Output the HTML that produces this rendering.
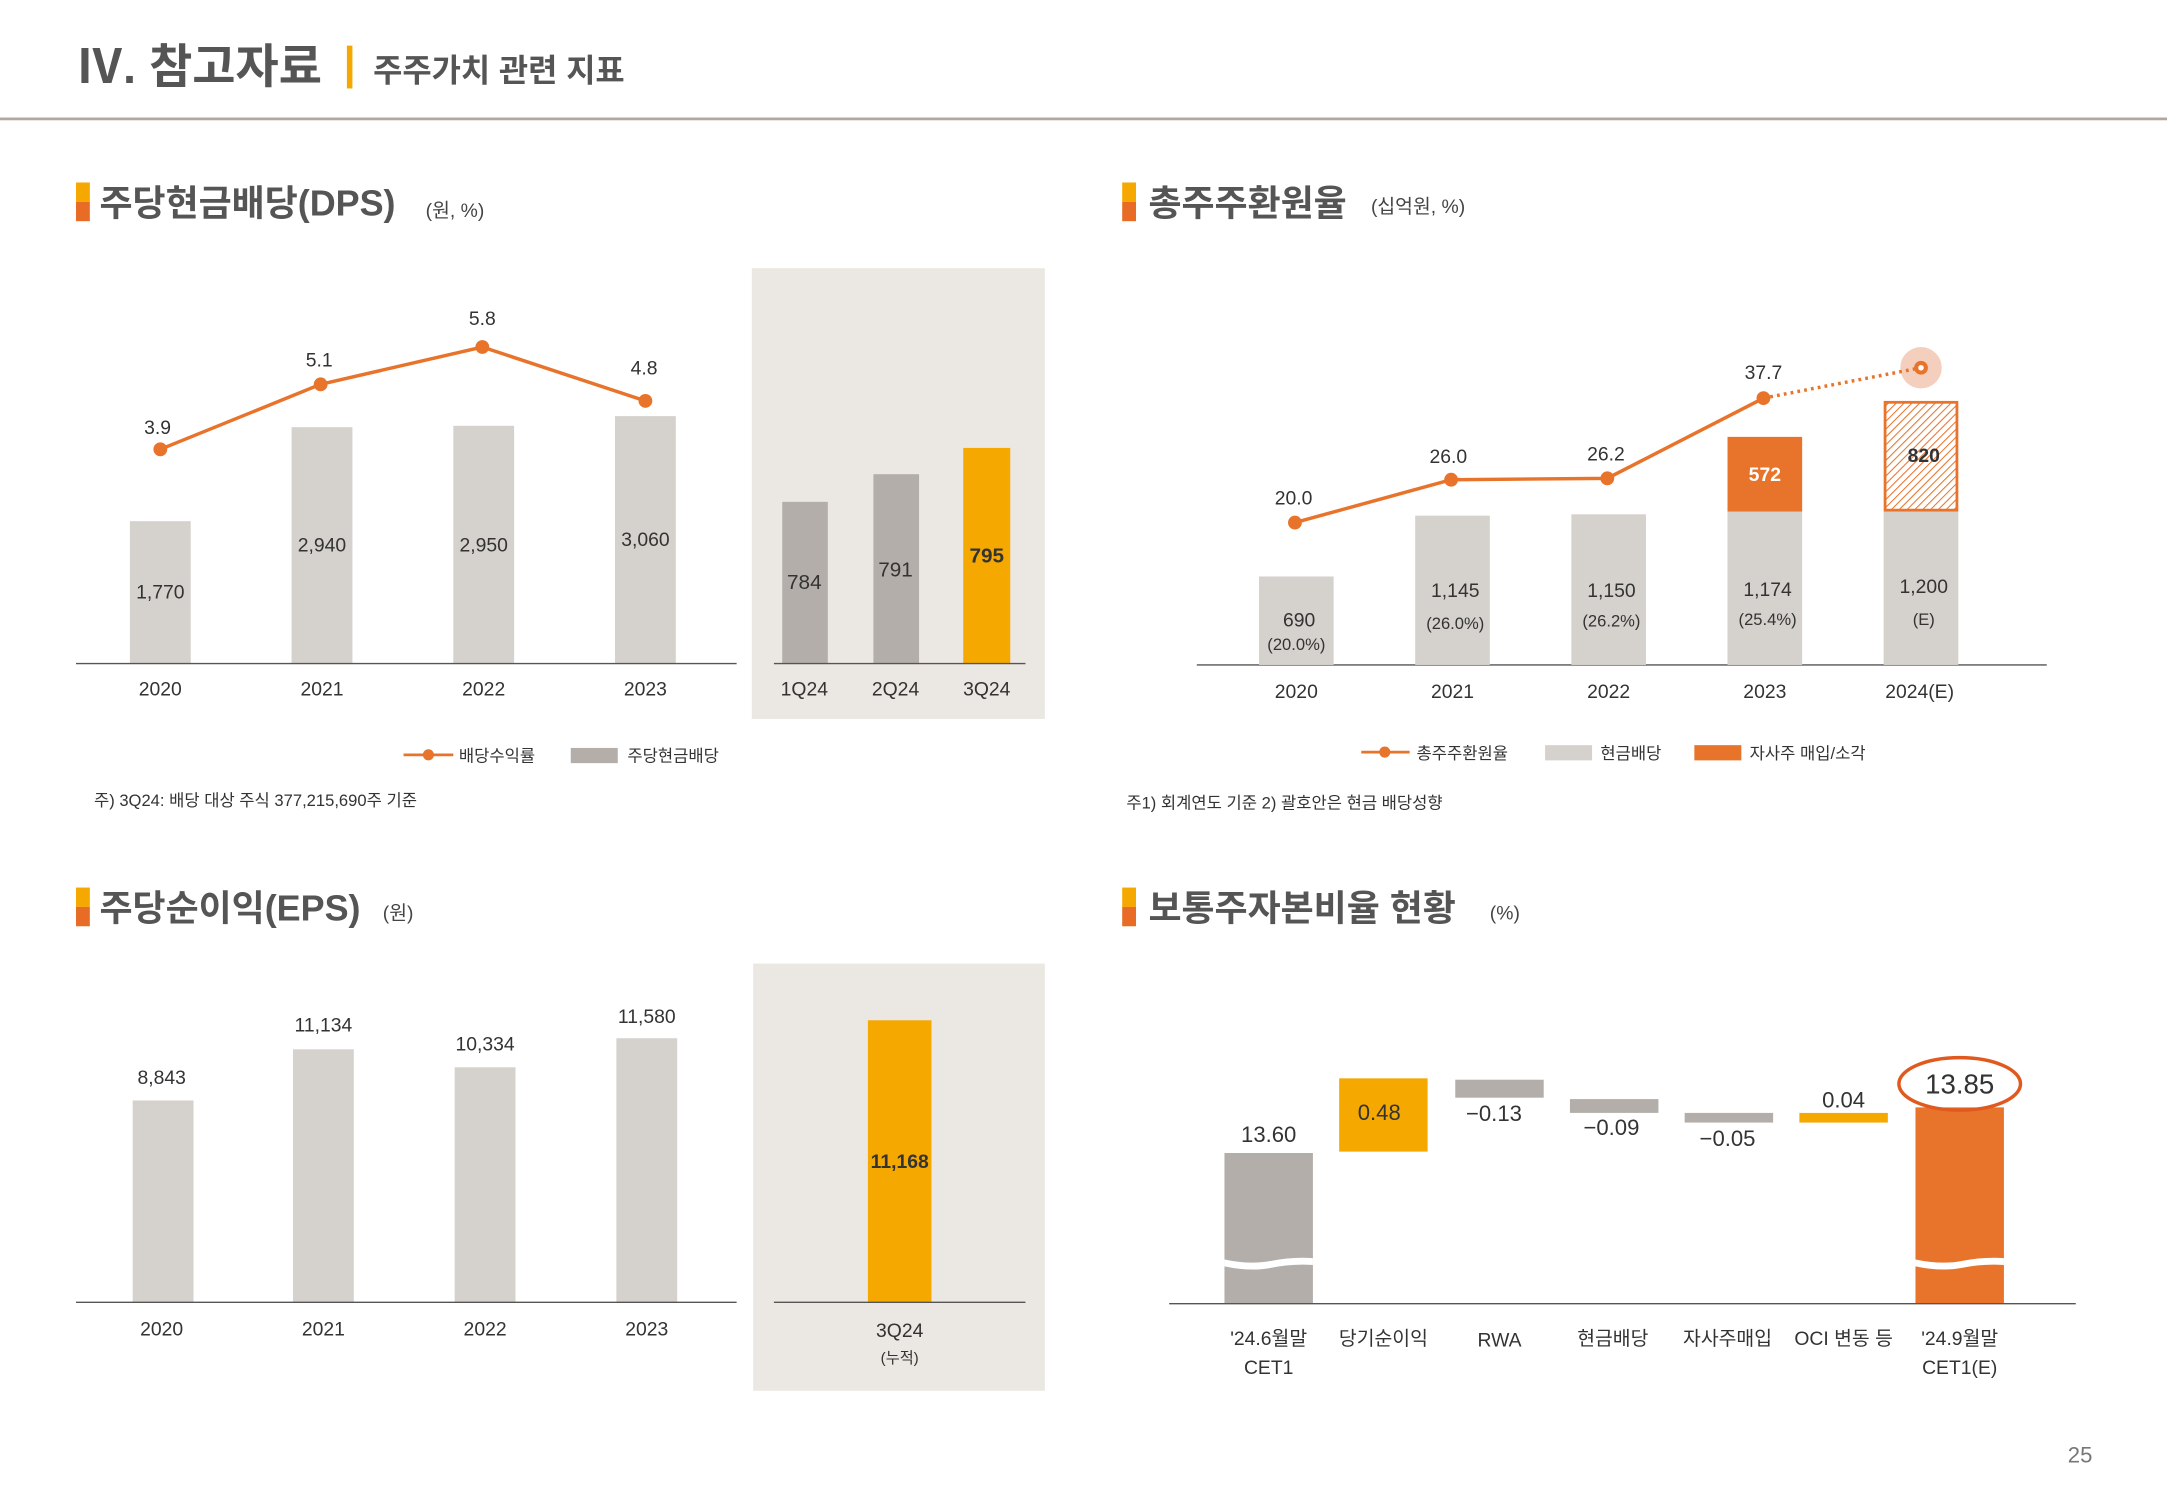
<!DOCTYPE html>
<html><head><meta charset="utf-8"><style>
html,body{margin:0;padding:0;background:#fff;width:2167px;height:1500px;overflow:hidden}
svg{display:block}
text{font-family:"Liberation Sans","Noto Sans CJK KR","NanumGothic",sans-serif;fill:#333}
.t{font-size:14px;text-anchor:middle}
.h{font-size:26px;font-weight:bold;fill:#555}
.s{font-size:14px;fill:#444}
.y{font-size:14px;text-anchor:middle;fill:#333}
</style></head><body>
<svg width="2167" height="1500" viewBox="0 0 1568 1085" preserveAspectRatio="none">
<defs>
<pattern id="hatch" width="4" height="4" patternUnits="userSpaceOnUse" patternTransform="rotate(45)">
<rect width="4" height="4" fill="#fff"/><line x1="0" y1="0" x2="0" y2="4" stroke="#e8732a" stroke-width="1.5"/></pattern>
</defs>
<!-- title -->
<text x="55" y="60" style="font-size:34px;font-weight:bold;fill:#555">Ⅳ. 참고자료</text>
<rect x="251" y="33" width="4" height="31" fill="#f5a800"/>
<text x="270" y="59" style="font-size:23px;font-weight:bold;fill:#555">주주가치 관련 지표</text>
<rect x="0" y="85" width="1568" height="2" fill="#b0a89e"/>

<!-- headers -->
<g>
<rect x="55" y="132" width="10" height="14" fill="#f5a800"/><rect x="55" y="146" width="10" height="14" fill="#e86c25"/>
<text x="72" y="156" class="h">주당현금배당(DPS)</text><text x="308" y="157" class="s">(원, %)</text>
<rect x="812" y="132" width="10" height="14" fill="#f5a800"/><rect x="812" y="146" width="10" height="14" fill="#e86c25"/>
<text x="831" y="156" class="h">총주주환원율</text><text x="992" y="154" class="s">(십억원, %)</text>
<rect x="55" y="642" width="10" height="14" fill="#f5a800"/><rect x="55" y="656" width="10" height="14" fill="#e86c25"/>
<text x="72" y="666" class="h">주당순이익(EPS)</text><text x="277" y="665" class="s">(원)</text>
<rect x="812" y="642" width="10" height="14" fill="#f5a800"/><rect x="812" y="656" width="10" height="14" fill="#e86c25"/>
<text x="831" y="666" class="h">보통주자본비율 현황</text><text x="1078" y="665" class="s">(%)</text>
</g>

<!-- chart 1 -->
<rect x="544" y="194" width="212" height="326" fill="#ebe7e3"/>
<rect x="94" y="377" width="44" height="103" fill="#d5d1cd"/>
<rect x="211" y="309" width="44" height="171" fill="#d5d1cd"/>
<rect x="328" y="308" width="44" height="172" fill="#d5d1cd"/>
<rect x="445" y="301" width="44" height="179" fill="#d5d1cd"/>
<line x1="55" y1="480" x2="533" y2="480" stroke="#555" stroke-width="1"/>
<text x="116" y="433" class="t">1,770</text><text x="233" y="399" class="t">2,940</text>
<text x="350" y="399" class="t">2,950</text><text x="467" y="395" class="t">3,060</text>
<polyline points="116,325 232,278 349,251 467,290" fill="none" stroke="#e8732a" stroke-width="2.5"/>
<g fill="#e8732a"><circle cx="116" cy="325" r="5"/><circle cx="232" cy="278" r="5"/><circle cx="349" cy="251" r="5"/><circle cx="467" cy="290" r="5"/></g>
<text x="114" y="314" class="t">3.9</text><text x="231" y="265" class="t">5.1</text><text x="349" y="235" class="t">5.8</text><text x="466" y="271" class="t">4.8</text>
<text x="116" y="503" class="y">2020</text><text x="233" y="503" class="y">2021</text><text x="350" y="503" class="y">2022</text><text x="467" y="503" class="y">2023</text>
<rect x="566" y="363" width="33" height="117" fill="#b3aea9"/>
<rect x="632" y="343" width="33" height="137" fill="#b3aea9"/>
<rect x="697" y="324" width="34" height="156" fill="#f5a800"/>
<line x1="560" y1="480" x2="742" y2="480" stroke="#555"/>
<text x="582" y="426" class="t" style="font-size:15px">784</text><text x="648" y="417" class="t" style="font-size:15px">791</text>
<text x="714" y="407" class="t" style="font-size:15px;font-weight:bold">795</text>
<text x="582" y="503" class="y">1Q24</text><text x="648" y="503" class="y">2Q24</text><text x="714" y="503" class="y">3Q24</text>
<line x1="292" y1="546" x2="328" y2="546" stroke="#e8732a" stroke-width="2"/><circle cx="310" cy="546" r="4" fill="#e8732a"/>
<text x="332" y="551" style="font-size:12px">배당수익률</text>
<rect x="413" y="541" width="34" height="11" fill="#b3aea9"/>
<text x="454" y="551" style="font-size:12px">주당현금배당</text>
<text x="68" y="583" style="font-size:12px">주) 3Q24: 배당 대상 주식 377,215,690주 기준</text>

<!-- chart 2 -->
<line x1="866" y1="481" x2="1481" y2="481" stroke="#555"/>
<rect x="911" y="417" width="54" height="64" fill="#d5d1cd"/>
<rect x="1024" y="373" width="54" height="108" fill="#d5d1cd"/>
<rect x="1137" y="372" width="54" height="109" fill="#d5d1cd"/>
<rect x="1250" y="370" width="54" height="111" fill="#d5d1cd"/>
<rect x="1250" y="316" width="54" height="54" fill="#e8732a"/>
<rect x="1363" y="370" width="54" height="111" fill="#d5d1cd"/>
<rect x="1364" y="291" width="52" height="78" fill="url(#hatch)" stroke="#e8732a" stroke-width="2"/>
<circle cx="1390" cy="266" r="15" fill="#f5cfbd"/>
<polyline points="937,378 1050,347 1163,346 1276,288" fill="none" stroke="#e8732a" stroke-width="2.5"/>
<line x1="1276" y1="288" x2="1390" y2="266" stroke="#e8732a" stroke-width="2.5" stroke-dasharray="2,3"/>
<g fill="#e8732a"><circle cx="937" cy="378" r="5"/><circle cx="1050" cy="347" r="5"/><circle cx="1163" cy="346" r="5"/><circle cx="1276" cy="288" r="5"/><circle cx="1390" cy="266" r="5"/></g>
<circle cx="1390" cy="266" r="2" fill="#fff"/>
<text x="936" y="365" class="t">20.0</text><text x="1048" y="335" class="t">26.0</text><text x="1162" y="333" class="t">26.2</text><text x="1276" y="274" class="t">37.7</text>
<text x="940" y="453" class="t">690</text><text x="938" y="470" class="t" style="font-size:12px">(20.0%)</text>
<text x="1053" y="432" class="t">1,145</text><text x="1053" y="455" class="t" style="font-size:12px">(26.0%)</text>
<text x="1166" y="432" class="t">1,150</text><text x="1166" y="453" class="t" style="font-size:12px">(26.2%)</text>
<text x="1279" y="431" class="t">1,174</text><text x="1279" y="452" class="t" style="font-size:12px">(25.4%)</text>
<text x="1392" y="429" class="t">1,200</text><text x="1392" y="452" class="t" style="font-size:12px">(E)</text>
<text x="1277" y="348" class="t" style="font-weight:bold;fill:#fff">572</text>
<text x="1392" y="334" class="t" style="font-weight:bold">820</text>
<text x="938" y="505" class="y">2020</text><text x="1051" y="505" class="y">2021</text><text x="1164" y="505" class="y">2022</text><text x="1277" y="505" class="y">2023</text><text x="1389" y="505" class="y">2024(E)</text>
<line x1="985" y1="544" x2="1020" y2="544" stroke="#e8732a" stroke-width="2"/><circle cx="1002" cy="544" r="4" fill="#e8732a"/>
<text x="1025" y="549" style="font-size:12px">총주주환원율</text>
<rect x="1118" y="539" width="34" height="11" fill="#d5d1cd"/><text x="1158" y="549" style="font-size:12px">현금배당</text>
<rect x="1226" y="539" width="34" height="11" fill="#e8732a"/><text x="1266" y="549" style="font-size:12px">자사주 매입/소각</text>
<text x="815" y="585" style="font-size:12px">주1) 회계연도 기준    2) 괄호안은 현금 배당성향</text>

<!-- chart 3 -->
<rect x="545" y="697" width="211" height="309" fill="#ebe7e3"/>
<rect x="96" y="796" width="44" height="146" fill="#d5d1cd"/>
<rect x="212" y="759" width="44" height="183" fill="#d5d1cd"/>
<rect x="329" y="772" width="44" height="170" fill="#d5d1cd"/>
<rect x="446" y="751" width="44" height="191" fill="#d5d1cd"/>
<line x1="55" y1="942" x2="533" y2="942" stroke="#555"/>
<text x="117" y="784" class="t">8,843</text><text x="234" y="746" class="t">11,134</text>
<text x="351" y="760" class="t">10,334</text><text x="468" y="740" class="t">11,580</text>
<text x="117" y="966" class="y">2020</text><text x="234" y="966" class="y">2021</text><text x="351" y="966" class="y">2022</text><text x="468" y="966" class="y">2023</text>
<rect x="628" y="738" width="46" height="204" fill="#f5a800"/>
<line x1="560" y1="942" x2="742" y2="942" stroke="#555"/>
<text x="651" y="845" class="t" style="font-weight:bold">11,168</text>
<text x="651" y="967" class="y">3Q24</text><text x="651" y="986" class="t" style="font-size:11px">(누적)</text>

<!-- chart 4 -->
<rect x="886" y="834" width="64" height="109" fill="#b3aea9"/>
<path d="M886,911 Q905,915 920,912 Q935,909 950,910 L950,915 Q935,914 920,917 Q905,920 886,916Z" fill="#fff"/>
<rect x="969" y="780" width="64" height="53" fill="#f5a800"/>
<rect x="1053" y="781" width="64" height="13" fill="#b3aea9"/>
<rect x="1136" y="795" width="64" height="10" fill="#b3aea9"/>
<rect x="1219" y="805" width="64" height="7" fill="#b3aea9"/>
<rect x="1302" y="805" width="64" height="7" fill="#f5a800"/>
<rect x="1386" y="801" width="64" height="142" fill="#e8732a"/>
<path d="M1386,911 Q1405,915 1420,912 Q1435,909 1450,910 L1450,915 Q1435,914 1420,917 Q1405,920 1386,916Z" fill="#fff"/>
<line x1="846" y1="943" x2="1502" y2="943" stroke="#555"/>
<text x="918" y="826" class="t" style="font-size:16px">13.60</text>
<text x="998" y="810" class="t" style="font-size:16px">0.48</text>
<text x="1081" y="811" class="t" style="font-size:16px">−0.13</text>
<text x="1166" y="821" class="t" style="font-size:16px">−0.09</text>
<text x="1250" y="829" class="t" style="font-size:16px">−0.05</text>
<text x="1334" y="801" class="t" style="font-size:16px">0.04</text>
<ellipse cx="1418" cy="784" rx="44" ry="19" fill="none" stroke="#e05a1f" stroke-width="2.5"/>
<text x="1418" y="791" class="t" style="font-size:20px">13.85</text>
<g style="font-size:14px">
<text x="918" y="973" class="y">'24.6월말</text><text x="918" y="994" class="y">CET1</text>
<text x="1001" y="973" class="y">당기순이익</text>
<text x="1085" y="974" class="y">RWA</text>
<text x="1167" y="973" class="y">현금배당</text>
<text x="1250" y="973" class="y">자사주매입</text>
<text x="1334" y="973" class="y">OCI 변동 등</text>
<text x="1418" y="973" class="y">'24.9월말</text><text x="1418" y="994" class="y">CET1(E)</text>
</g>
<text x="1514" y="1058" style="font-size:16px;fill:#777;text-anchor:end">25</text>
</svg>
</body></html>
